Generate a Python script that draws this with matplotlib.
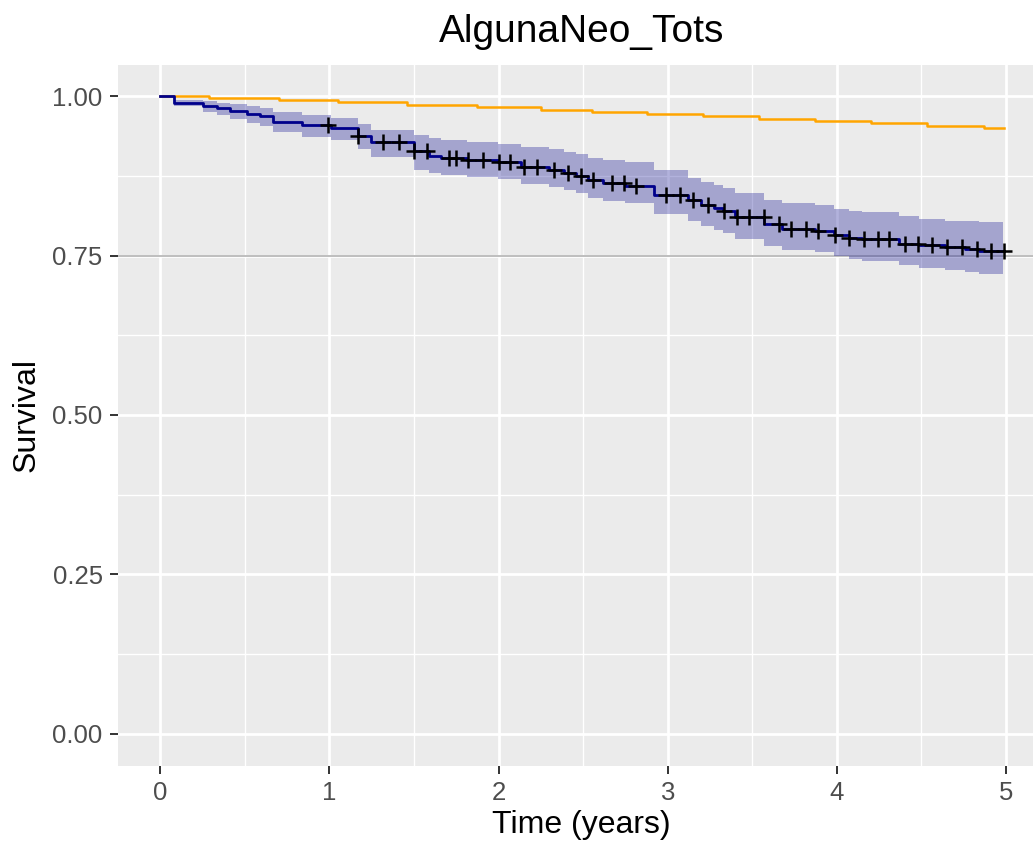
import numpy as np
import matplotlib
matplotlib.use('Agg')
import matplotlib.pyplot as plt
from matplotlib.ticker import MultipleLocator, FormatStrFormatter

plt.rcParams['font.family'] = ['Liberation Sans', 'DejaVu Sans']

# Kaplan-Meier steps (blue) with confidence band
km_time = [0.0, 0.083, 0.255, 0.338, 0.415, 0.515, 0.592, 0.669, 0.841, 1.007,
           1.167, 1.244, 1.499, 1.588, 1.659, 1.813, 1.996, 2.133, 2.299, 2.387,
           2.459, 2.530, 2.618, 2.750, 2.921, 3.122, 3.199, 3.276, 3.329, 3.395,
           3.572, 3.673, 3.868, 3.981, 4.070, 4.147, 4.366, 4.484, 4.639, 4.757,
           4.840, 4.980]
km_surv = [1.000, 0.990, 0.985, 0.981, 0.977, 0.973, 0.969, 0.960, 0.955, 0.950,
           0.938, 0.928, 0.914, 0.906, 0.904, 0.900, 0.897, 0.889, 0.885, 0.880,
           0.875, 0.868, 0.864, 0.860, 0.846, 0.838, 0.830, 0.825, 0.820, 0.810,
           0.799, 0.792, 0.789, 0.783, 0.778, 0.776, 0.769, 0.767, 0.763, 0.760,
           0.757, 0.757]
km_lower = [1.000, 0.985, 0.975, 0.970, 0.964, 0.958, 0.953, 0.944, 0.937, 0.931,
            0.917, 0.905, 0.884, 0.879, 0.877, 0.873, 0.870, 0.862, 0.858, 0.853,
            0.848, 0.841, 0.836, 0.832, 0.816, 0.804, 0.796, 0.790, 0.785, 0.776,
            0.765, 0.759, 0.755, 0.749, 0.745, 0.742, 0.735, 0.731, 0.728, 0.724,
            0.722, 0.722]
km_upper = [1.000, 0.995, 0.992, 0.990, 0.988, 0.985, 0.982, 0.976, 0.971, 0.966,
            0.956, 0.948, 0.940, 0.935, 0.932, 0.929, 0.926, 0.920, 0.917, 0.913,
            0.909, 0.903, 0.900, 0.897, 0.885, 0.872, 0.866, 0.861, 0.856, 0.848,
            0.838, 0.833, 0.830, 0.824, 0.820, 0.818, 0.812, 0.808, 0.805, 0.804,
            0.803, 0.803]

# censored times (+ marks)
censor_time = [0.99, 1.17, 1.32, 1.41, 1.50, 1.58, 1.71, 1.75, 1.82, 1.91,
               2.00, 2.07, 2.15, 2.23, 2.33, 2.41, 2.49, 2.56, 2.67, 2.74,
               2.81, 2.99, 3.07, 3.15, 3.24, 3.33, 3.41, 3.48, 3.57, 3.66,
               3.73, 3.82, 3.89, 3.99, 4.07, 4.16, 4.24, 4.31, 4.40, 4.48,
               4.56, 4.65, 4.74, 4.83, 4.91, 4.99]

# expected survival (orange)
exp_time = [0.0, 0.29, 0.705, 1.05, 1.46, 1.87, 2.25, 2.55, 2.88, 3.21,
            3.54, 3.87, 4.20, 4.53, 4.87, 4.99]
exp_surv = [1.000, 0.997, 0.994, 0.991, 0.986, 0.983, 0.979, 0.976, 0.972, 0.969,
            0.965, 0.961, 0.958, 0.954, 0.951, 0.951]

ref_line = 0.75

fig = plt.figure(figsize=(10.33, 8.51), dpi=100)
W, H = 1033, 851
# panel runs past the right edge (original image was cropped)
ax = fig.add_axes([118 / W, (H - 765.5) / H, (1045 - 118) / W, 701 / H])
ax.set_facecolor('#EBEBEB')
for s in ax.spines.values():
    s.set_visible(False)

ax.set_xlim(-0.249, 5.23)
ax.set_ylim(-0.05, 1.05)
ax.xaxis.set_major_locator(MultipleLocator(1))
ax.xaxis.set_minor_locator(MultipleLocator(0.5))
ax.yaxis.set_major_locator(MultipleLocator(0.25))
ax.yaxis.set_minor_locator(MultipleLocator(0.125))
ax.grid(which='major', color='white', linewidth=2.0)
ax.grid(which='minor', color='white', linewidth=1.0)
ax.set_axisbelow(True)
ax.tick_params(which='minor', length=0)
ax.tick_params(which='major', length=6, width=1.4, color='#333333',
               labelsize=18.5, labelcolor='#4D4D4D', pad=5)
ax.yaxis.set_major_formatter(FormatStrFormatter('%.2f'))
ax.xaxis.set_major_formatter(FormatStrFormatter('%d'))

ax.axhline(ref_line, color='#BEBEBE', linewidth=1.4, zorder=1)

ax.fill_between(km_time, km_lower, km_upper, step='post',
                color='#00008B', alpha=0.3, linewidth=0, zorder=2)
ax.step(exp_time, exp_surv, where='post', color='#FFA500', linewidth=1.8, zorder=3)
ax.step(km_time, km_surv, where='post', color='#00008B', linewidth=2.0, zorder=4)

idx = np.searchsorted(km_time, censor_time, side='right') - 1
censor_y = np.array(km_surv)[idx]
ax.plot(censor_time, censor_y, linestyle='none', marker='+', color='black',
        markersize=11, markeredgewidth=1.8, zorder=5)

ax.set_xlabel('Time (years)', fontsize=23, color='black', labelpad=4)
ax.set_ylabel('Survival', fontsize=23, color='black', labelpad=8)
fig.text(582 / W, 1 - 32 / H, 'AlgunaNeo_Tots', fontsize=28, ha='center', va='center')

fig.savefig('out.png', dpi=100)
